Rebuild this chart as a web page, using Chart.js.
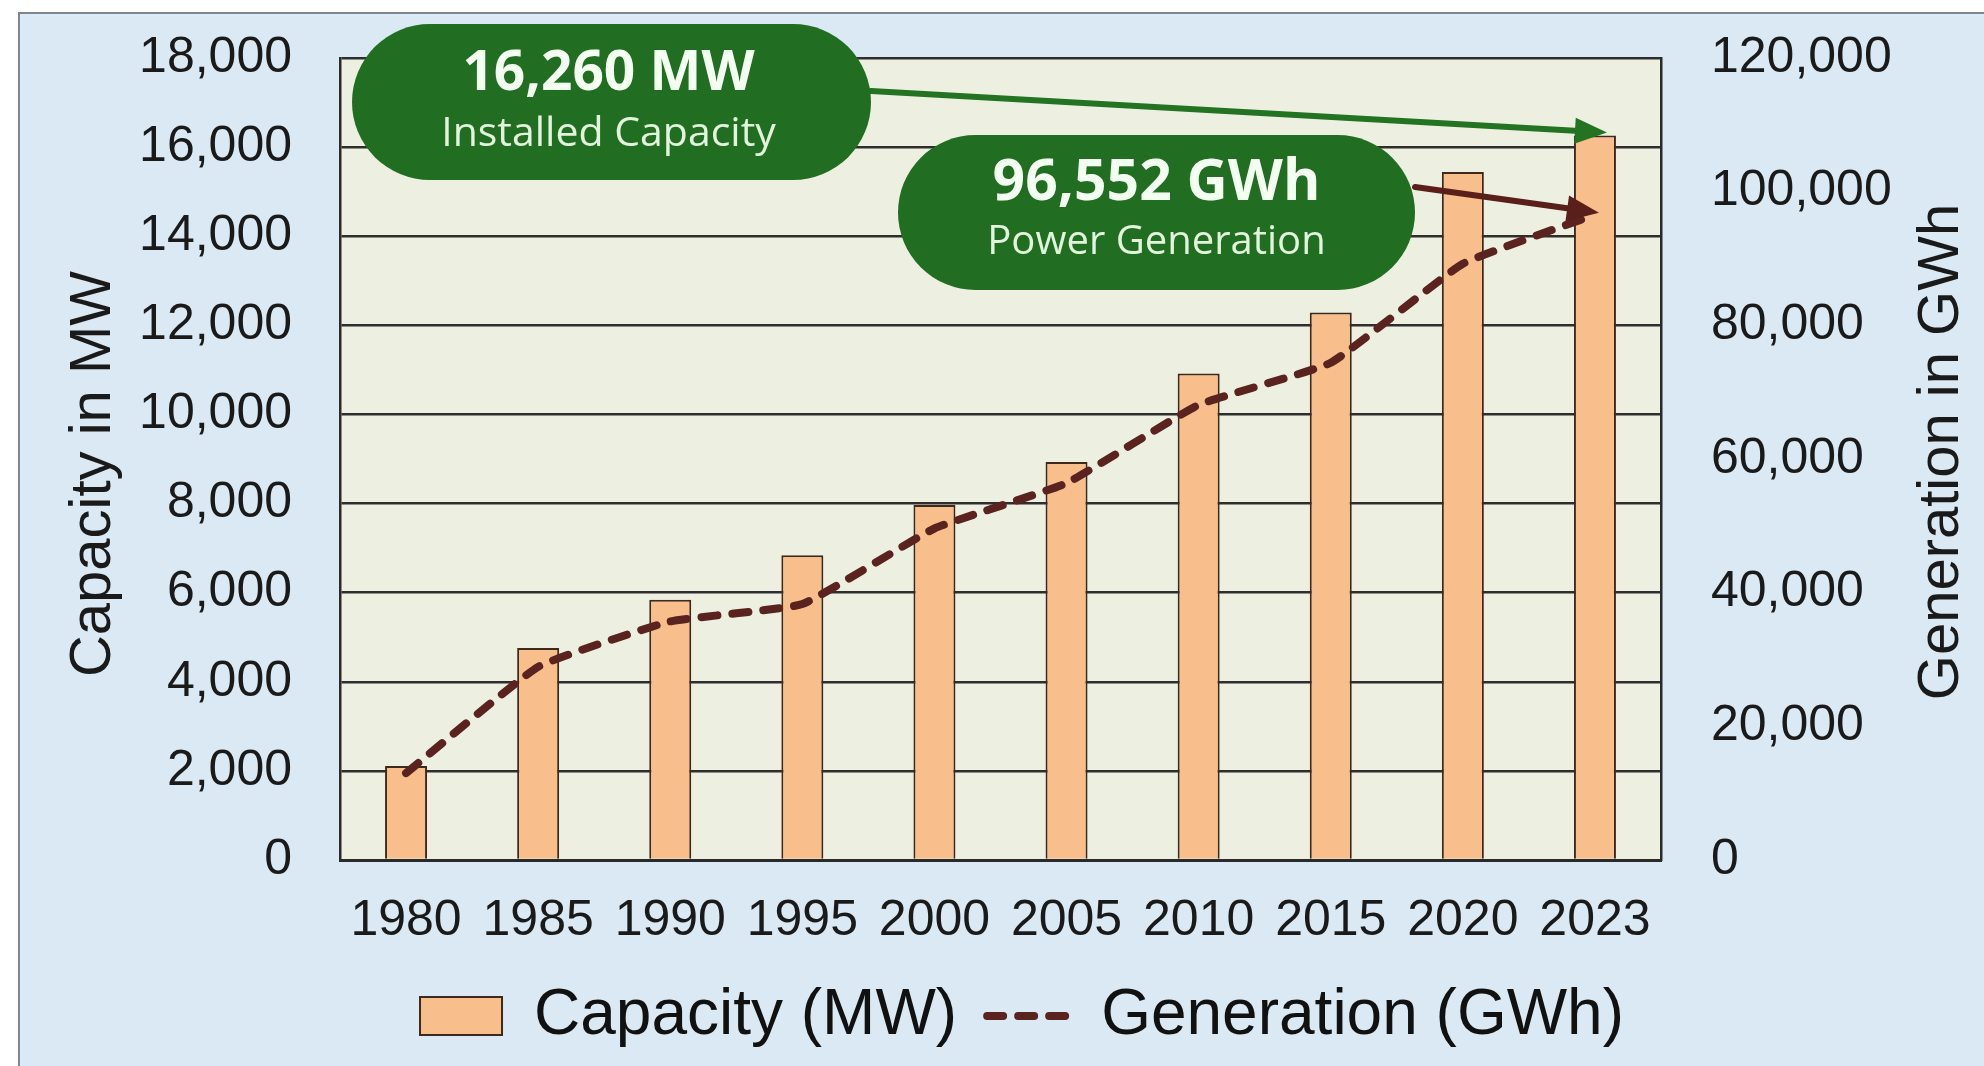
<!DOCTYPE html>
<html><head><meta charset="utf-8">
<script src="https://cdn.jsdelivr.net/npm/chart.js@4.4.0/dist/chart.umd.min.js"></script>
<style>
html,body{margin:0;padding:0;background:#ffffff;width:1984px;height:1066px;overflow:hidden;}
#panel{position:absolute;left:18px;top:12px;width:2000px;height:1100px;background:#dae9f3;border-left:2px solid #80868b;border-top:2px solid #80868b;box-sizing:border-box;}
#c{position:absolute;left:0;top:0;}
</style></head><body>
<div id="panel"></div>
<canvas id="c" width="1984" height="1066"></canvas>
<script>
// ---- data ----
const years = ['1980','1985','1990','1995','2000','2005','2010','2015','2020','2023'];
const capacityMW = [2110, 4760, 5840, 6840, 7970, 8930, 10920, 12290, 15440, 16260];
const generationGWh = [13000, 28900, 35700, 38300, 49600, 56400, 68100, 74400, 89200, 96552];
const capAxis = {min: 0, max: 18000, step: 2000};
const genAxis = {min: 0, max: 120000, step: 20000};
const seriesLabels = ['Capacity (MW)', 'Generation (GWh)'];
const axisTitles = ['Capacity in MW', 'Generation in GWh'];
const calloutValues = ['16,260 MW', '96,552 GWh'];
const calloutLabels = ['Installed Capacity', 'Power Generation'];

// ---- style ----
const TICK_FONT = {family: '"Liberation Sans", Arial, sans-serif', size: 50};
const GREEN = '#216d21';
const LINE_DASH = [16, 15];
const fmt = v => Number(v).toLocaleString('en-US');

function fitFont(ctx, text, weight, family, target) {
  ctx.font = weight + ' 100px ' + family;
  const w = ctx.measureText(text).width;
  return Math.round(100 * target / w);
}
function arrow(ctx, x1, y1, x2, y2, color, lw) {
  const ang = Math.atan2(y2 - y1, x2 - x1), L = 32, H = 13;
  const bx = x2 - L * Math.cos(ang), by = y2 - L * Math.sin(ang);
  ctx.strokeStyle = color; ctx.lineWidth = lw; ctx.lineCap = 'round';
  ctx.beginPath(); ctx.moveTo(x1, y1); ctx.lineTo(bx, by); ctx.stroke();
  ctx.fillStyle = color; ctx.beginPath(); ctx.moveTo(x2, y2);
  ctx.lineTo(bx + H * Math.sin(ang), by - H * Math.cos(ang));
  ctx.lineTo(bx - H * Math.sin(ang), by + H * Math.cos(ang));
  ctx.closePath(); ctx.fill();
}
function callout(ctx, box, value, label) {
  ctx.fillStyle = GREEN;
  ctx.beginPath(); ctx.roundRect(box.x, box.y, box.w, box.h, box.h / 2); ctx.fill();
  const cx = box.x + box.w / 2 + box.dx;
  ctx.textAlign = 'center'; ctx.textBaseline = 'middle';
  const fam = '"Open Sans", "Noto Sans", sans-serif';
  let s = fitFont(ctx, value, 'bold', fam, box.vw);
  ctx.font = 'bold ' + s + 'px ' + fam; ctx.fillStyle = '#f3fff0';
  ctx.fillText(value, cx, box.y + box.vy);
  s = fitFont(ctx, label, 'normal', fam, box.lw);
  ctx.font = 'normal ' + s + 'px ' + fam; ctx.fillStyle = '#e2f4dc';
  ctx.fillText(label, cx, box.y + box.ly);
}

const deco = {
  id: 'deco',
  beforeDraw(chart) {
    const {ctx, chartArea: a} = chart;
    ctx.save(); ctx.fillStyle = '#edf0e1';
    ctx.fillRect(a.left, a.top, a.right - a.left, a.bottom - a.top);
    ctx.restore();
  },
  afterDraw(chart) {
    const {ctx, scales} = chart;
    ctx.save();
    ctx.fillStyle = '#1a1a1a';
    ctx.font = '58px "Liberation Sans", Arial, sans-serif';
    ctx.textAlign = 'center'; ctx.textBaseline = 'middle';
    ctx.save(); ctx.translate(94, 474); ctx.rotate(-Math.PI / 2); ctx.fillText(axisTitles[0], 0, 0); ctx.restore();
    ctx.save(); ctx.translate(1942, 452); ctx.rotate(-Math.PI / 2); ctx.fillText(axisTitles[1], 0, 0); ctx.restore();

    const last = years.length - 1;
    const xEnd = scales.x.getPixelForValue(last);
    arrow(ctx, 871, 91, xEnd + 12, scales.y.getPixelForValue(capacityMW[last]) - 3, '#237323', 6);
    arrow(ctx, 1415, 187, xEnd + 4, scales.y1.getPixelForValue(generationGWh[last]) - 2, '#5a1e1b', 6);
    callout(ctx, {x: 352, y: 24, w: 519, h: 156, dx: -3, vw: 293, vy: 50, lw: 332, ly: 110}, calloutValues[0], calloutLabels[0]);
    callout(ctx, {x: 898, y: 135, w: 517, h: 155, dx: 0, vw: 328, vy: 49, lw: 337, ly: 108}, calloutValues[1], calloutLabels[1]);
    ctx.restore();
  }
};

new Chart(document.getElementById('c'), {
  data: {
    labels: years,
    datasets: [
      {type: 'bar', label: seriesLabels[0], data: capacityMW, yAxisID: 'y', order: 2,
       backgroundColor: '#f8be8b', borderColor: '#3d2a1c', borderWidth: 2,
       categoryPercentage: 1, barPercentage: 0.318},
      {type: 'line', label: seriesLabels[1], data: generationGWh, yAxisID: 'y1', order: 1,
       borderColor: '#5a2320', backgroundColor: '#5a2320', borderWidth: 8,
       borderDash: LINE_DASH, borderCapStyle: 'round', borderJoinStyle: 'round',
       tension: 0.12, pointRadius: 0, fill: false}
    ]
  },
  options: {
    responsive: false, animation: false, devicePixelRatio: 1,
    layout: {padding: {left: 60, right: 0, top: 58, bottom: 8}},
    plugins: {
      tooltip: {enabled: false},
      legend: {
        position: 'bottom',
        labels: {
          usePointStyle: true, pointStyleWidth: 82, boxHeight: 38, padding: 30,
          color: '#111', font: {family: '"Liberation Sans", Arial, sans-serif', size: 64},
          sort: (a, b) => a.datasetIndex - b.datasetIndex,
          generateLabels: (chart) => Chart.defaults.plugins.legend.labels.generateLabels(chart)
            .map(it => it.datasetIndex === 0
              ? Object.assign(it, {pointStyle: 'rect', lineWidth: 2})
              : Object.assign(it, {pointStyle: 'line', lineWidth: 8, lineDash: LINE_DASH, lineCap: 'round', strokeStyle: '#5a2320'}))
        }
      }
    },
    scales: {
      x: {
        offset: true,
        grid: {display: false, drawTicks: false},
        border: {display: true, color: '#2a2a2a', width: 3},
        ticks: {color: '#1a1a1a', font: TICK_FONT, padding: 31, maxRotation: 0, autoSkip: false},
        afterFit: s => { s.height = 94; }
      },
      y: {
        position: 'left', min: capAxis.min, max: capAxis.max,
        grid: {color: '#2e2e2e', lineWidth: 2.5, drawTicks: false},
        border: {display: true, color: '#2a2a2a', width: 2.5},
        ticks: {stepSize: capAxis.step, color: '#1a1a1a', font: TICK_FONT, padding: 48, callback: fmt},
        afterFit: s => { s.width = 280; s.paddingTop = 0; s.paddingBottom = 0; }
      },
      y1: {
        position: 'right', min: genAxis.min, max: genAxis.max,
        grid: {display: false, drawTicks: false},
        border: {display: true, color: '#2a2a2a', width: 2.5},
        ticks: {stepSize: genAxis.step, color: '#1a1a1a', font: TICK_FONT, padding: 50, callback: fmt},
        afterFit: s => { s.width = 323; s.paddingTop = 0; s.paddingBottom = 0; }
      }
    }
  },
  plugins: [deco]
});
</script>
</body></html>
